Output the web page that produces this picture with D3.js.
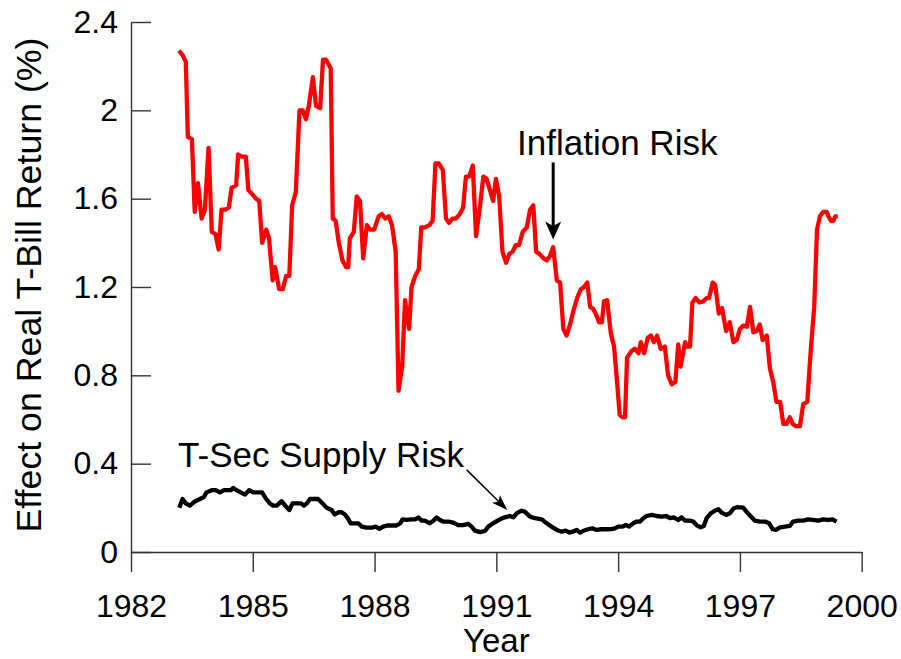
<!DOCTYPE html>
<html><head><meta charset="utf-8">
<script src="https://cdn.jsdelivr.net/npm/d3@7"></script>
<style>body{margin:0;background:#fff}svg{display:block}text{font-family:"Liberation Sans",Arial,sans-serif;fill:#000}</style>
</head><body><svg id="chart" width="901" height="659"></svg>
<script>
// Inflation risk (red) — decimal year / value
const inflYears = [1983.18,1983.27,1983.35,1983.40,1983.50,1983.57,1983.65,1983.74,1983.82,1983.91,1983.99,1984.08,1984.16,1984.23,1984.32,1984.41,1984.48,1984.59,1984.64,1984.73,1984.83,1984.89,1985.08,1985.16,1985.23,1985.33,1985.40,1985.49,1985.55,1985.65,1985.74,1985.82,1985.90,1985.97,1986.06,1986.15,1986.23,1986.31,1986.38,1986.48,1986.56,1986.66,1986.73,1986.80,1986.92,1986.97,1987.04,1987.12,1987.21,1987.30,1987.35,1987.39,1987.49,1987.56,1987.64,1987.72,1987.81,1987.89,1987.99,1988.10,1988.18,1988.26,1988.35,1988.43,1988.52,1988.59,1988.68,1988.75,1988.85,1988.91,1989.00,1989.09,1989.15,1989.24,1989.35,1989.43,1989.50,1989.58,1989.68,1989.76,1989.83,1989.92,1990.00,1990.10,1990.18,1990.25,1990.33,1990.42,1990.50,1990.60,1990.68,1990.76,1990.84,1990.92,1990.99,1991.07,1991.15,1991.24,1991.32,1991.40,1991.48,1991.56,1991.65,1991.75,1991.83,1991.91,1991.98,1992.06,1992.16,1992.24,1992.32,1992.40,1992.49,1992.57,1992.65,1992.73,1992.83,1992.91,1992.99,1993.08,1993.16,1993.24,1993.31,1993.39,1993.47,1993.53,1993.60,1993.65,1993.73,1993.82,1993.90,1993.96,1994.04,1994.11,1994.17,1994.22,1994.33,1994.41,1994.50,1994.56,1994.64,1994.73,1994.81,1994.88,1994.96,1995.05,1995.15,1995.23,1995.32,1995.41,1995.48,1995.54,1995.65,1995.70,1995.77,1995.83,1995.91,1996.00,1996.10,1996.18,1996.24,1996.33,1996.39,1996.48,1996.56,1996.66,1996.75,1996.84,1996.92,1997.00,1997.08,1997.17,1997.25,1997.33,1997.41,1997.49,1997.56,1997.66,1997.74,1997.82,1997.90,1997.99,1998.07,1998.15,1998.23,1998.30,1998.38,1998.48,1998.56,1998.66,1998.74,1998.83,1998.90,1998.97,1999.05,1999.14,1999.18,1999.24,1999.30,1999.35,1999.41];
const inflValues = [2.27,2.25,2.22,1.88,1.87,1.54,1.67,1.51,1.55,1.83,1.45,1.44,1.37,1.55,1.55,1.56,1.65,1.66,1.80,1.79,1.79,1.64,1.60,1.59,1.40,1.46,1.42,1.23,1.29,1.19,1.19,1.25,1.25,1.57,1.63,2.00,2.00,1.96,2.02,2.15,2.02,2.01,2.23,2.23,2.19,1.51,1.50,1.40,1.32,1.29,1.29,1.42,1.45,1.61,1.59,1.33,1.48,1.46,1.46,1.52,1.53,1.51,1.52,1.48,1.36,0.73,0.84,1.14,1.01,1.20,1.25,1.28,1.47,1.47,1.48,1.50,1.76,1.76,1.73,1.51,1.49,1.51,1.51,1.53,1.56,1.70,1.70,1.75,1.43,1.57,1.70,1.69,1.64,1.59,1.69,1.61,1.36,1.31,1.35,1.36,1.39,1.39,1.45,1.47,1.55,1.57,1.36,1.35,1.33,1.32,1.34,1.38,1.23,1.22,1.01,0.98,1.04,1.10,1.15,1.19,1.20,1.22,1.11,1.10,1.07,1.04,1.04,1.135,1.14,0.99,0.93,0.80,0.62,0.61,0.61,0.88,0.91,0.92,0.90,0.95,0.90,0.97,0.98,0.95,0.98,0.92,0.93,0.80,0.76,0.77,0.94,0.84,0.95,0.93,0.93,1.13,1.15,1.13,1.135,1.15,1.15,1.22,1.21,1.08,1.105,1.00,1.04,0.95,0.96,1.01,1.025,1.02,1.11,0.995,1.00,1.03,0.96,0.98,0.83,0.77,0.68,0.68,0.58,0.58,0.61,0.58,0.57,0.57,0.67,0.68,0.90,1.11,1.46,1.52,1.54,1.54,1.52,1.50,1.50,1.52,1.52];

// T-Sec supply risk (black)
const supplyYears = [1983.19,1983.27,1983.35,1983.45,1983.58,1983.70,1983.80,1983.86,1983.99,1984.09,1984.19,1984.29,1984.36,1984.46,1984.52,1984.60,1984.70,1984.81,1984.91,1985.01,1985.12,1985.23,1985.33,1985.42,1985.50,1985.59,1985.71,1985.80,1985.90,1985.98,1986.08,1986.19,1986.26,1986.33,1986.41,1986.53,1986.61,1986.72,1986.82,1986.94,1987.02,1987.11,1987.19,1987.27,1987.35,1987.41,1987.52,1987.60,1987.68,1987.81,1987.93,1988.03,1988.12,1988.21,1988.31,1988.46,1988.54,1988.63,1988.69,1988.79,1988.91,1989.00,1989.08,1989.16,1989.24,1989.36,1989.45,1989.53,1989.61,1989.69,1989.82,1989.94,1990.06,1990.18,1990.31,1990.39,1990.47,1990.60,1990.72,1990.80,1990.92,1991.01,1991.09,1991.21,1991.33,1991.42,1991.50,1991.62,1991.70,1991.83,1991.95,1992.12,1992.24,1992.36,1992.49,1992.61,1992.71,1992.80,1992.88,1992.98,1993.06,1993.16,1993.26,1993.37,1993.47,1993.59,1993.72,1993.84,1993.92,1994.00,1994.11,1994.19,1994.27,1994.37,1994.46,1994.54,1994.62,1994.70,1994.83,1994.95,1995.07,1995.18,1995.28,1995.37,1995.48,1995.56,1995.65,1995.77,1995.85,1995.93,1996.03,1996.11,1996.18,1996.28,1996.38,1996.47,1996.55,1996.66,1996.75,1996.85,1996.93,1997.08,1997.16,1997.26,1997.37,1997.49,1997.62,1997.72,1997.81,1997.89,1997.99,1998.11,1998.23,1998.31,1998.44,1998.56,1998.68,1998.80,1998.93,1999.05,1999.17,1999.28,1999.38];
const supplyValues = [0.20,0.24,0.22,0.21,0.23,0.24,0.25,0.27,0.28,0.28,0.27,0.28,0.28,0.28,0.29,0.28,0.27,0.26,0.28,0.27,0.27,0.27,0.24,0.22,0.21,0.21,0.23,0.21,0.19,0.22,0.22,0.22,0.21,0.22,0.24,0.24,0.24,0.22,0.20,0.19,0.17,0.18,0.18,0.17,0.15,0.13,0.13,0.13,0.115,0.11,0.11,0.115,0.105,0.115,0.12,0.12,0.12,0.13,0.148,0.145,0.148,0.148,0.156,0.142,0.142,0.13,0.142,0.156,0.145,0.138,0.138,0.133,0.122,0.122,0.127,0.115,0.097,0.09,0.095,0.115,0.13,0.14,0.148,0.157,0.163,0.157,0.175,0.187,0.183,0.16,0.153,0.148,0.13,0.115,0.10,0.092,0.097,0.088,0.092,0.10,0.088,0.097,0.103,0.107,0.10,0.103,0.103,0.104,0.107,0.115,0.115,0.122,0.115,0.13,0.138,0.138,0.153,0.163,0.168,0.163,0.16,0.163,0.153,0.157,0.145,0.157,0.142,0.142,0.138,0.122,0.112,0.118,0.153,0.175,0.187,0.194,0.178,0.168,0.175,0.198,0.203,0.201,0.183,0.163,0.142,0.138,0.138,0.13,0.103,0.10,0.112,0.115,0.118,0.138,0.142,0.142,0.148,0.145,0.142,0.148,0.145,0.148,0.138];

const xTicks = [1982,1985,1988,1991,1994,1997,2000];
const yTicks = [0,0.4,0.8,1.2,1.6,2,2.4];
const yTickLabels = ["0","0.4","0.8","1.2","1.6","2","2.4"];

const svg = d3.select("#chart");
const x = d3.scaleLinear().domain([1982,2000]).range([131,861.7]);
const y = d3.scaleLinear().domain([0,2.4]).range([552,22]);

// axes
const xAxis = d3.axisBottom(x).tickValues(xTicks).tickFormat(d3.format("d")).tickSizeInner(20).tickSizeOuter(0).tickPadding(22);
const gx = svg.append("g").attr("transform",`translate(0,${y(0)})`).call(xAxis);
const yAxis = d3.axisLeft(y).tickValues(yTicks).tickFormat((d,i)=>yTickLabels[i]).tickSizeInner(-20).tickSizeOuter(0).tickPadding(13);
const gy = svg.append("g").attr("transform",`translate(${x(1982)},0)`).call(yAxis);
[gx,gy].forEach(g=>{
  g.selectAll("path.domain").attr("stroke","#333").attr("stroke-width",1.4);
  g.selectAll(".tick line").attr("stroke","#333").attr("stroke-width",1.4);
  g.selectAll(".tick text").attr("font-size",32).attr("font-family","'Liberation Sans',Arial,sans-serif").attr("fill","#000");
});

// axis titles
svg.append("text").attr("x",(x(1982)+x(2000))/2).attr("y",652).attr("text-anchor","middle").attr("font-size",33).text("Year");
svg.append("text").attr("transform",`translate(41,${285}) rotate(-90)`).attr("text-anchor","middle").attr("font-size",35)
  .attr("textLength",495).attr("lengthAdjust","spacingAndGlyphs").text("Effect on Real T-Bill Return (%)");

// lines
const line = d3.line().x(d=>x(d[0])).y(d=>y(d[1]));
svg.append("path").datum(inflYears.map((t,i)=>[t,inflValues[i]]))
  .attr("d",line).attr("fill","none").attr("stroke","#ff0000").attr("stroke-width",4.3).attr("stroke-linejoin","round");
svg.append("path").datum(supplyYears.map((t,i)=>[t,supplyValues[i]]))
  .attr("d",line).attr("fill","none").attr("stroke","#000").attr("stroke-width",4.3).attr("stroke-linejoin","round");

// annotations
function arrow(x1,y1,x2,y2,w,headLen,headW){
  const ang=Math.atan2(y2-y1,x2-x1);
  const bx=x2-headLen*Math.cos(ang), by=y2-headLen*Math.sin(ang);
  svg.append("line").attr("x1",x1).attr("y1",y1).attr("x2",x2-headLen*0.6*Math.cos(ang)).attr("y2",y2-headLen*0.6*Math.sin(ang))
    .attr("stroke","#000").attr("stroke-width",w);
  const px=-Math.sin(ang), py=Math.cos(ang);
  const nx=x2-headLen*0.75*Math.cos(ang), ny=y2-headLen*0.75*Math.sin(ang);
  svg.append("path").attr("d",`M${x2},${y2}L${bx+px*headW/2},${by+py*headW/2}L${nx},${ny}L${bx-px*headW/2},${by-py*headW/2}Z`).attr("fill","#000");
}
svg.append("text").attr("x",x(1991.51)).attr("y",y(1.80)).attr("font-size",35).text("Inflation Risk");
arrow(x(1992.40),y(1.764),x(1992.40),y(1.415),3,18,16);
svg.append("text").attr("x",x(1983.16)).attr("y",y(0.384)).attr("font-size",35).text("T-Sec Supply Risk");
arrow(x(1990.27),y(0.372),x(1991.27),y(0.19),1.5,16,11);
</script></body></html>
